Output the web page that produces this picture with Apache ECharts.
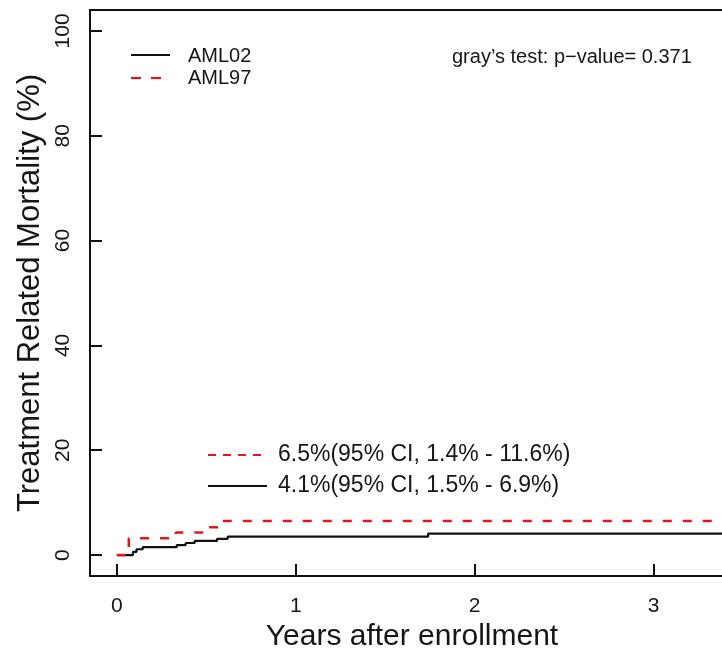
<!DOCTYPE html>
<html>
<head>
<meta charset="utf-8">
<script src="https://cdn.jsdelivr.net/npm/echarts@6/dist/echarts.min.js"></script>
<style>
html,body{margin:0;padding:0;background:#fff;overflow:hidden}
#main{width:734px;height:654px}
</style>
</head>
<body>
<div id="main"></div>
<script>
// cumulative incidence of treatment related mortality (%)
var aml02Time  = [0, 0.09, 0.11, 0.145, 0.335, 0.385, 0.435, 0.56, 0.62, 1.74, 3.45];
var aml02Value = [0, 0.6,  1.1,  1.5,   1.9,   2.3,   2.7,   3.1,  3.5,  4.1,  4.1];
var aml97Time  = [0, 0.067, 0.33, 0.49, 0.575, 3.45];
var aml97Value = [0, 3.2,   4.3,  5.3,  6.5,   6.5];

var xTicks = [0, 1, 2, 3];
var yTicks = [0, 20, 40, 60, 80, 100];
var groupNames = ['AML02', 'AML97'];
var ciLabels = ['6.5%(95% CI, 1.4% - 11.6%)', '4.1%(95% CI, 1.5% - 6.9%)'];
var testLabel = 'gray\u2019s test: p\u2212value= 0.371';

var FONT = '"Liberation Sans", Arial, Helvetica, sans-serif';
var RED = '#e3161d';

function toPairs(t, v){
	var out = [];
	for (var i = 0; i < t.length; i++) {
		out.push([t[i], v[i]]);
	}
	return out;
}

function legendLine(x1, x2, y, color, dash){
	return {
		type: 'line',
		shape: {x1: x1, y1: y, x2: x2, y2: y},
		style: {stroke: color, lineWidth: 2.2, lineDash: dash || null}
	};
}
function legendText(x, y, txt, size){
	return {
		type: 'text',
		x: x, y: y,
		style: {text: txt, fill: '#161616', font: size + 'px ' + FONT, textVerticalAlign: 'middle'}
	};
}

// the plot box runs past the right edge of the window (cropped figure)
var myChart = echarts.init(document.getElementById('main'));
var option = {
	backgroundColor: '#fff',
	animation: false,
	grid: {
		left: 90, top: 10, bottom: 78, right: 0,
		outerBoundsMode: 'none',
		containLabel: false,
		show: true, borderColor: '#111', borderWidth: 2, backgroundColor: 'transparent'
	},
	xAxis: {
		type: 'value',
		min: -0.15, max: 3.45,
		name: 'Years after enrollment',
		nameLocation: 'middle',
		nameGap: 46,
		nameMoveOverlap: false,
		nameTextStyle: {fontSize: 30, color: '#161616', fontFamily: FONT},
		axisLine: {show: true, onZero: false, lineStyle: {color: '#111', width: 2}},
		splitLine: {show: false},
		axisTick: {show: true, inside: true, length: 12, customValues: xTicks, lineStyle: {color: '#111', width: 2}},
		axisLabel: {customValues: xTicks, margin: 20, fontSize: 21, color: '#161616', fontFamily: FONT}
	},
	yAxis: {
		type: 'value',
		min: -4, max: 104,
		name: 'Treatment Related Mortality (%)',
		nameLocation: 'middle',
		nameRotate: 90,
		nameGap: 44,
		nameMoveOverlap: false,
		nameTextStyle: {fontSize: 31, color: '#161616', fontFamily: FONT},
		axisLine: {show: true, onZero: false, lineStyle: {color: '#111', width: 2}},
		splitLine: {show: false},
		axisTick: {show: true, inside: true, length: 12, customValues: yTicks, lineStyle: {color: '#111', width: 2}},
		axisLabel: {customValues: yTicks, rotate: 90, margin: 16, fontSize: 21, color: '#161616', fontFamily: FONT}
	},
	series: [
		{
			name: groupNames[0],
			type: 'line',
			step: 'end',
			showSymbol: false,
			data: toPairs(aml02Time, aml02Value),
			lineStyle: {color: '#111', width: 2.2},
			z: 2
		},
		{
			name: groupNames[1],
			type: 'line',
			step: 'end',
			showSymbol: false,
			data: toPairs(aml97Time, aml97Value),
			lineStyle: {color: RED, width: 2.6, type: [9, 11]},
			z: 3
		}
	],
	graphic: [
		legendLine(131, 170, 55, '#111'),
		legendText(188, 56, groupNames[0], 20),
		legendLine(131, 165, 78, RED, [10, 10]),
		legendText(188, 78, groupNames[1], 20),
		legendText(452, 57, testLabel, 20),
		legendLine(208, 268, 455, RED, [8, 7]),
		legendText(278, 455, ciLabels[0], 23),
		legendLine(208, 267, 486, '#111'),
		legendText(278, 486, ciLabels[1], 23)
	]
};
myChart.setOption(option);
</script>
</body>
</html>
